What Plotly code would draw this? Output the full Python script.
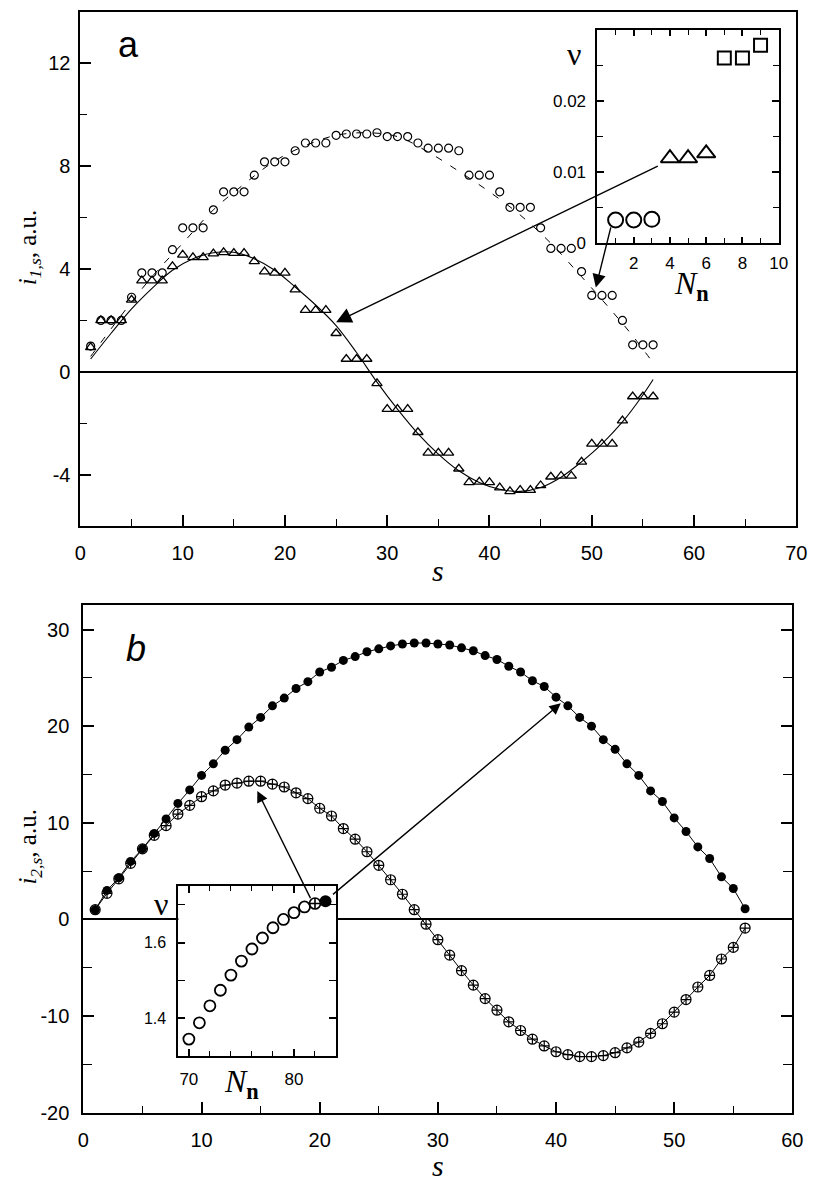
import plotly.graph_objects as go

# ---------------- data ----------------
s = list(range(1, 57))

# panel a
i1_circles = [1.0, 2.0, 2.0, 2.0, 2.9, 3.85, 3.85, 3.85, 4.75, 5.6, 5.6, 5.6, 6.3, 7.0, 7.0, 7.0,
              7.65, 8.17, 8.17, 8.17, 8.6, 8.9, 8.9, 8.9, 9.2, 9.25, 9.25, 9.25, 9.3, 9.15, 9.15, 9.15,
              8.9, 8.7, 8.7, 8.7, 8.6, 7.65, 7.65, 7.65, 7.0, 6.4, 6.4, 6.4, 5.6, 4.8, 4.8, 4.8,
              3.9, 2.97, 2.97, 2.97, 2.0, 1.05, 1.05, 1.05]
i1_triangles = [0.95, 2.0, 2.0, 2.0, 2.8, 3.55, 3.55, 3.55, 4.1, 4.55, 4.45, 4.45, 4.6, 4.65, 4.62, 4.62,
                4.3, 3.9, 3.85, 3.85, 3.2, 2.4, 2.4, 2.4, 1.5, 0.5, 0.5, 0.5, -0.45, -1.45, -1.45, -1.45,
                -2.35, -3.15, -3.15, -3.15, -3.77, -4.3, -4.28, -4.3, -4.5, -4.65, -4.6, -4.6, -4.42,
                -4.08, -4.05, -4.05, -3.5, -2.8, -2.8, -2.8, -1.9, -0.96, -0.96, -0.96]
fit_tri_s = [1, 3, 5, 7, 9, 11, 13, 15, 17, 19, 21, 23, 25, 27, 29, 31, 33, 35, 37, 39, 41, 43, 45,
             47, 49, 51, 53, 55, 56]
fit_tri = [0.5, 1.5, 2.45, 3.25, 3.95, 4.4, 4.63, 4.65, 4.4, 3.95, 3.3, 2.6, 1.8, 0.75, -0.4, -1.45,
           -2.4, -3.2, -3.85, -4.3, -4.57, -4.65, -4.5, -4.1, -3.5, -2.8, -1.95, -0.9, -0.3]
fit_circ_s = [1, 4, 7, 10, 13, 16, 19, 22, 25, 28, 31, 34, 37, 40, 43, 46, 49, 52, 54, 56]
fit_circ = [0.6, 2.2, 3.7, 5.0, 6.3, 7.3, 8.2, 8.8, 9.2, 9.3, 9.15, 8.55, 7.8, 7.0, 6.1, 5.0, 3.7,
            2.35, 1.4, 0.35]
a_xticks = [0, 10, 20, 30, 40, 50, 60, 70]
a_yticks = [-4, 0, 4, 8, 12]
a_yticktext = ["-4", "0", "4", "8", "12"]

# inset a
inset_a_N_circ = [1, 2, 3]
inset_a_nu_circ = [0.0032, 0.0032, 0.0033]
inset_a_N_tri = [4, 5, 6]
inset_a_nu_tri = [0.0119, 0.0119, 0.0126]
inset_a_N_sq = [7, 8, 9]
inset_a_nu_sq = [0.026, 0.026, 0.0278]
inset_a_xticks = [2, 4, 6, 8, 10]
inset_a_yticks = [0, 0.01, 0.02]
inset_a_yticktext = ["0", "0.01", "0.02"]

# panel b
i2_filled = [1.0, 3.0, 4.3, 6.0, 7.3, 8.9, 10.4, 12.0, 13.4, 14.9,
             16.1, 17.5, 18.6, 19.9, 20.9, 22.1, 22.9, 23.9, 24.6, 25.6,
             26.1, 26.8, 27.2, 27.7, 28.0, 28.3, 28.5, 28.6, 28.6, 28.5,
             28.4, 28.1, 27.8, 27.3, 26.9, 26.2, 25.6, 24.7, 24.1, 23.0,
             22.1, 20.9, 20.0, 18.6, 17.6, 16.1, 14.9, 13.3, 12.2, 10.5,
             9.1, 7.5, 6.3, 4.4, 3.2, 1.1]
i2_crossed = [1.0, 2.7, 4.2, 5.8, 7.3, 8.7, 9.7, 10.9, 11.8, 12.7,
              13.3, 13.9, 14.1, 14.3, 14.3, 14.0, 13.7, 13.1, 12.5, 11.5,
              10.7, 9.4, 8.3, 7.0, 5.6, 4.1, 2.6, 1.0, -0.5, -2.1,
              -3.7, -5.3, -6.8, -8.2, -9.4, -10.6, -11.5, -12.4, -13.1, -13.7,
              -14.0, -14.2, -14.2, -14.1, -13.8, -13.3, -12.7, -11.8, -10.8, -9.6,
              -8.3, -7.0, -5.8, -4.1, -2.9, -0.9]
b_xticks = [0, 10, 20, 30, 40, 50, 60]
b_yticks = [-20, -10, 0, 10, 20, 30]
b_yticktext = ["-20", "-10", "0", "10", "20", "30"]

# inset b
inset_b_N_open = [70, 71, 72, 73, 74, 75, 76, 77, 78, 79, 80, 81]
inset_b_nu_open = [1.345, 1.388, 1.433, 1.474, 1.514, 1.551, 1.583, 1.612, 1.639, 1.661, 1.679, 1.694]
inset_b_N_cross = [82]
inset_b_nu_cross = [1.703]
inset_b_N_fill = [83]
inset_b_nu_fill = [1.709]
inset_b_xticks = [70, 80]
inset_b_yticks = [1.4, 1.6]

# ---------------- layout helpers ----------------
W, H = 821, 1191


def xd(a, b):
    return [a / W, b / W]


def yd(top, bottom):
    return [1 - bottom / H, 1 - top / H]


def px(x, y):
    return x / W, 1 - y / H


SANS = "Liberation Sans, Arial, sans-serif"
SERIF = "Liberation Serif, Times New Roman, serif"
BLACK = "black"

fig = go.Figure()

# panel a traces
fig.add_trace(go.Scatter(x=fit_circ_s, y=fit_circ, mode="lines",
                         line=dict(color=BLACK, width=1, dash="7px,10px", shape="spline"),
                         xaxis="x", yaxis="y"))
fig.add_trace(go.Scatter(x=fit_tri_s, y=fit_tri, mode="lines", line=dict(color=BLACK, width=1.1, shape="spline"),
                         xaxis="x", yaxis="y"))
fig.add_trace(go.Scatter(x=s, y=i1_circles, mode="markers",
                         marker=dict(symbol="circle-open", size=8, color=BLACK, line=dict(width=1.2, color=BLACK)),
                         xaxis="x", yaxis="y"))
fig.add_trace(go.Scatter(x=s, y=i1_triangles, mode="markers",
                         marker=dict(symbol="triangle-up-open", size=9, color=BLACK, line=dict(width=1.3, color=BLACK)),
                         xaxis="x", yaxis="y"))

# panel b traces
fig.add_trace(go.Scatter(x=s, y=i2_filled, mode="lines+markers", line=dict(color=BLACK, width=1),
                         marker=dict(symbol="circle", size=9, color=BLACK),
                         xaxis="x2", yaxis="y2"))
fig.add_trace(go.Scatter(x=s, y=i2_crossed, mode="lines+markers", line=dict(color=BLACK, width=1),
                         marker=dict(symbol="circle-cross-open", size=10, color=BLACK, line=dict(width=1.2, color=BLACK)),
                         xaxis="x2", yaxis="y2"))

# inset a traces
fig.add_trace(go.Scatter(x=inset_a_N_circ, y=inset_a_nu_circ, mode="markers",
                         marker=dict(symbol="circle-open", size=15, color=BLACK, line=dict(width=2, color=BLACK)),
                         xaxis="x3", yaxis="y3"))
fig.add_trace(go.Scatter(x=inset_a_N_tri, y=inset_a_nu_tri, mode="markers",
                         marker=dict(symbol="triangle-up-open", size=16, color=BLACK, line=dict(width=2, color=BLACK)),
                         xaxis="x3", yaxis="y3"))
fig.add_trace(go.Scatter(x=inset_a_N_sq, y=inset_a_nu_sq, mode="markers",
                         marker=dict(symbol="square-open", size=13, color=BLACK, line=dict(width=2, color=BLACK)),
                         xaxis="x3", yaxis="y3"))

# inset b traces
fig.add_trace(go.Scatter(x=inset_b_N_open, y=inset_b_nu_open, mode="markers",
                         marker=dict(symbol="circle-open", size=11, color=BLACK, line=dict(width=1.8, color=BLACK)),
                         xaxis="x4", yaxis="y4"))
fig.add_trace(go.Scatter(x=inset_b_N_cross, y=inset_b_nu_cross, mode="markers",
                         marker=dict(symbol="circle-cross-open", size=11, color=BLACK, line=dict(width=1.6, color=BLACK)),
                         xaxis="x4", yaxis="y4"))
fig.add_trace(go.Scatter(x=inset_b_N_fill, y=inset_b_nu_fill, mode="markers",
                         marker=dict(symbol="circle", size=12, color=BLACK),
                         xaxis="x4", yaxis="y4"))


def main_axis(**kw):
    d = dict(showgrid=False, showline=True, linecolor=BLACK, linewidth=2, mirror=True,
             ticks="inside", ticklen=11, tickwidth=1.6, tickcolor=BLACK,
             tickfont=dict(family=SANS, size=20, color=BLACK), zeroline=False)
    d.update(kw)
    return d


def minor(tick0, dtick, ln):
    return dict(tickmode="linear", tick0=tick0, dtick=dtick, ticklen=ln, ticks="inside",
                tickcolor=BLACK, tickwidth=1.3)


layout = dict(
    width=W, height=H, margin=dict(l=0, r=0, t=0, b=0),
    paper_bgcolor="white", plot_bgcolor="white", showlegend=False,
    xaxis=main_axis(domain=xd(76, 807), range=[0, 70], tickmode="array", tickvals=a_xticks, anchor="y",
                    minor=minor(0, 5, 7), ticklabelstandoff=8),
    yaxis=main_axis(domain=yd(12, 531), range=[-6, 14], tickmode="array", tickvals=a_yticks,
                    ticktext=a_yticktext, anchor="x",
                    zeroline=True, zerolinecolor=BLACK, zerolinewidth=2,
                    minor=minor(0, 2, 7), ticklabelstandoff=4),
    xaxis2=main_axis(domain=xd(79, 803), range=[0, 60], tickmode="array", tickvals=b_xticks, anchor="y2",
                     minor=minor(0, 5, 7), ticklabelstandoff=8),
    yaxis2=main_axis(domain=yd(611, 1123), range=[-20, 32.5], tickmode="array", tickvals=b_yticks,
                     ticktext=b_yticktext, anchor="x2", mirror="ticks",
                     zeroline=True, zerolinecolor=BLACK, zerolinewidth=2,
                     minor=minor(0, 5, 9), ticklabelstandoff=8),
    xaxis3=main_axis(domain=xd(604, 789), range=[0, 10], tickmode="array", tickvals=inset_a_xticks,
                     anchor="y3", mirror="ticks", ticklen=6,
                     tickfont=dict(family=SANS, size=17, color=BLACK),
                     minor=minor(0, 1, 5), ticklabelstandoff=4),
    yaxis3=main_axis(domain=yd(30, 245), range=[0, 0.03], tickmode="array", tickvals=inset_a_yticks,
                     ticktext=inset_a_yticktext, anchor="x3", mirror="ticks", ticklen=7,
                     tickfont=dict(family=SANS, size=17, color=BLACK),
                     minor=minor(0, 0.005, 6), ticklabelstandoff=6),
    xaxis4=main_axis(domain=xd(176, 337), range=[69, 84], tickmode="array", tickvals=inset_b_xticks,
                     anchor="y4", mirror="ticks", ticklen=7,
                     tickfont=dict(family=SANS, size=17, color=BLACK),
                     minor=minor(70, 2, 5), ticklabelstandoff=6),
    yaxis4=main_axis(domain=yd(894, 1066), range=[1.3, 1.75], tickmode="array", tickvals=inset_b_yticks,
                     anchor="x4", mirror="ticks", ticklen=7,
                     tickfont=dict(family=SANS, size=16, color=BLACK),
                     minor=minor(1.3, 0.1, 7), ticklabelstandoff=7),
)
fig.update_layout(**layout)

# ---------------- annotations ----------------
ann = []


def text(x, y, t, size, family, angle=0):
    xx, yy = px(x, y)
    ann.append(dict(x=xx, y=yy, xref="paper", yref="paper", text=t, showarrow=False,
                    font=dict(family=family, size=size, color=BLACK), textangle=angle,
                    xanchor="center", yanchor="middle"))


text(125, 45, "a", 36, SANS)
text(133, 655, "<i>b</i>", 36, SANS)
text(24, 250, "<i>i</i><sub><i>1,s</i></sub>, a.u.", 25, SERIF, -90)
text(24, 855, "<i>i</i><sub><i>2,s</i></sub>, a.u.", 25, SERIF, -90)
text(441, 576, "<i>s</i>", 30, SERIF)
text(441, 1176, "<i>s</i>", 30, SERIF)
text(580, 54, "ν", 32, SERIF)
text(158, 912, "ν", 32, SERIF)
text(700, 288, "<i>N</i><sub><b>n</b></sub>", 32, SERIF)
text(240, 1094, "<i>N</i><sub><b>n</b></sub>", 32, SERIF)


def arrow(xr, yr, head, tail, size):
    ann.append(dict(x=head[0], y=head[1], ax=tail[0], ay=tail[1], xref=xr, yref=yr, axref=xr, ayref=yr,
                    showarrow=True, arrowhead=2, arrowsize=size, arrowwidth=1.4, arrowcolor=BLACK, text=""))


arrow("x", "y", (25.0, 1.93), (56.6, 8.03), 2.2)
arrow("x", "y", (50.4, 3.28), (51.9, 5.68), 1.9)
arrow("x2", "y2", (14.72, 13.3), (19.28, 2.05), 1.6)
arrow("x2", "y2", (40.4, 22.36), (21.0, 2.46), 1.6)

fig.update_layout(annotations=ann)

fig.write_html("out.html")
